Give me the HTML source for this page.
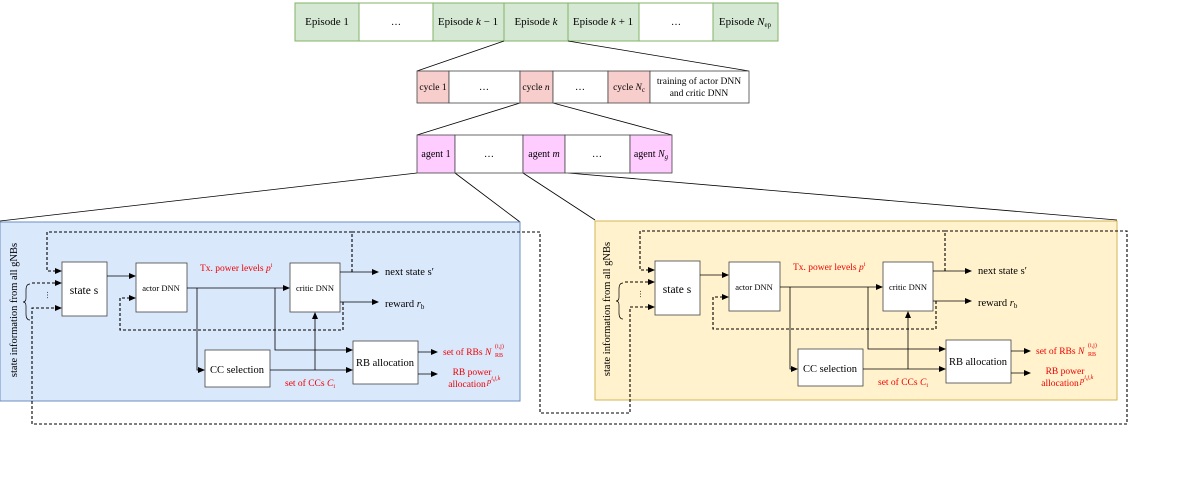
<!DOCTYPE html>
<html><head><meta charset="utf-8"><style>body{margin:0;background:#fff}svg{display:block}text{font-family:"Liberation Serif",serif;font-size:10px}</style></head><body>
<svg width="1177" height="491" viewBox="0 0 1177 491" xmlns="http://www.w3.org/2000/svg">
<defs>
<marker id="a" markerWidth="7" markerHeight="6" refX="6" refY="3" orient="auto" markerUnits="userSpaceOnUse"><path d="M0,0 L7,3 L0,6 Z" fill="#000"/></marker>
</defs>
<g stroke="#82b366" stroke-width="1">
<rect x="295" y="3" width="64" height="38" fill="#d5e8d4"/>
<rect x="359" y="3" width="74" height="38" fill="#fff"/>
<rect x="433" y="3" width="71" height="38" fill="#d5e8d4"/>
<rect x="504" y="3" width="64" height="38" fill="#d5e8d4"/>
<rect x="568" y="3" width="71" height="38" fill="#d5e8d4"/>
<rect x="639" y="3" width="74" height="38" fill="#fff"/>
<rect x="713" y="3" width="65" height="38" fill="#d5e8d4"/>
</g>
<g text-anchor="middle">
<text x="327" y="25" style="font-size:11px">Episode 1</text><text x="396" y="25">…</text>
<text x="468" y="25" style="font-size:11px">Episode <tspan font-style="italic">k</tspan> − 1</text>
<text x="536" y="25" style="font-size:11px">Episode <tspan font-style="italic">k</tspan></text>
<text x="603" y="25" style="font-size:11px">Episode <tspan font-style="italic">k</tspan> + 1</text>
<text x="676" y="25">…</text>
<text x="745" y="25" style="font-size:11px">Episode <tspan font-style="italic">N</tspan><tspan font-size="7" dy="2">ep</tspan></text>
</g>
<g stroke="#000" stroke-width="0.8" fill="none">
<line x1="504" y1="41" x2="417" y2="71"/><line x1="568" y1="41" x2="749" y2="71"/>
<line x1="520" y1="103" x2="417" y2="135"/><line x1="553" y1="103" x2="672" y2="135"/>
<line x1="417" y1="173" x2="0" y2="221"/><line x1="455" y1="173" x2="520" y2="222"/>
<line x1="523" y1="173" x2="595" y2="220"/><line x1="568" y1="173" x2="1117" y2="220"/>
</g>
<g stroke="#444" stroke-width="0.8">
<rect x="417" y="71" width="32" height="32" fill="#f8cecc"/>
<rect x="449" y="71" width="71" height="32" fill="#fff"/>
<rect x="520" y="71" width="33" height="32" fill="#f8cecc"/>
<rect x="553" y="71" width="55" height="32" fill="#fff"/>
<rect x="608" y="71" width="42" height="32" fill="#f8cecc"/>
<rect x="650" y="71" width="99" height="32" fill="#fff"/>
</g>
<g text-anchor="middle">
<text x="433" y="90" style="font-size:9.5px">cycle 1</text><text x="484" y="90">…</text>
<text x="536" y="90" style="font-size:9.5px">cycle <tspan font-style="italic">n</tspan></text><text x="580" y="90">…</text>
<text x="629" y="90" style="font-size:9.5px">cycle <tspan font-style="italic">N</tspan><tspan font-size="7" dy="2">c</tspan></text>
<text x="699" y="84" style="font-size:9.5px">training of actor DNN</text><text x="699" y="96" style="font-size:9.5px">and critic DNN</text>
</g>
<g stroke="#444" stroke-width="0.8">
<rect x="417" y="135" width="38" height="38" fill="#ffccff"/>
<rect x="455" y="135" width="68" height="38" fill="#fff"/>
<rect x="523" y="135" width="42" height="38" fill="#ffccff"/>
<rect x="565" y="135" width="65" height="38" fill="#fff"/>
<rect x="630" y="135" width="42" height="38" fill="#ffccff"/>
</g>
<g text-anchor="middle">
<text x="436" y="157">agent 1</text><text x="489" y="157">…</text>
<text x="544" y="157">agent <tspan font-style="italic">m</tspan></text><text x="597" y="157">…</text>
<text x="651" y="157">agent <tspan font-style="italic">N</tspan><tspan font-size="7" dy="2" font-style="italic">g</tspan></text>
</g>

<rect x="0" y="222" width="520" height="179" fill="#dae8fc" stroke="#6c8ebf"/>
<rect x="595" y="221" width="522" height="179" fill="#fff2cc" stroke="#d6b656"/>

<g id="inner">
<g stroke="#444" stroke-width="0.8" fill="#fff">
<rect x="62" y="262" width="45" height="54"/>
<rect x="136" y="263" width="51" height="49"/>
<rect x="290" y="263" width="50" height="49"/>
<rect x="205" y="350" width="65" height="37"/>
<rect x="353" y="341" width="65" height="43"/>
</g>
<text x="84" y="294" text-anchor="middle" style="font-size:11.5px">state s</text>
<text x="161" y="291" text-anchor="middle" style="font-size:8.5px">actor DNN</text>
<text x="315" y="291" text-anchor="middle" style="font-size:8.5px">critic DNN</text>
<text x="237" y="373" text-anchor="middle" style="font-size:10.5px">CC selection</text>
<text x="385" y="366" text-anchor="middle" style="font-size:10.5px">RB allocation</text>
<text x="17" y="310" transform="rotate(-90 17 310)" text-anchor="middle" style="font-size:10.5px">state information from all gNBs</text>
<path d="M30,284 q-4,0 -4,6 v8 q0,4 -3,4 q3,0 3,4 v8 q0,6 4,6" fill="none" stroke="#000" stroke-width="0.7"/>
<text x="50" y="298" text-anchor="middle" transform="rotate(90 50 295)" style="font-size:8px">…</text>
<g stroke="#000" stroke-width="0.8" fill="none">
<line x1="107" y1="276" x2="135" y2="276" marker-end="url(#a)"/>
<line x1="187" y1="288" x2="289" y2="288" marker-end="url(#a)"/>
<polyline points="197,288 197,370 204,370" marker-end="url(#a)"/>
<polyline points="275,288 275,350 352,350" marker-end="url(#a)"/>
<line x1="270" y1="370" x2="352" y2="370" marker-end="url(#a)"/>
<line x1="315" y1="370" x2="315" y2="313" marker-end="url(#a)"/>
<line x1="340" y1="272" x2="378" y2="272" marker-end="url(#a)"/>
<line x1="340" y1="302" x2="378" y2="302" marker-end="url(#a)"/>
<line x1="418" y1="352" x2="437" y2="352" marker-end="url(#a)"/>
<line x1="418" y1="374" x2="437" y2="374" marker-end="url(#a)"/>
</g>
<g stroke="#000" stroke-width="1.1" fill="none" stroke-dasharray="3,2">
<polyline points="352,272 352,232 47,232 47,271 61,271" marker-end="url(#a)"/>
<polyline points="32,283 61,283" marker-end="url(#a)"/>
<polyline points="343,302 343,330 120,330 120,298 135,298" marker-end="url(#a)"/>
</g>
<text x="385" y="275" style="font-size:10.5px">next state s′</text>
<text x="385" y="307" style="font-size:10.5px">reward <tspan font-style="italic">r</tspan><tspan font-size="7" dy="2">b</tspan></text>
<g fill="#e00">
<text x="200" y="271" style="font-size:9.5px">Tx. power levels <tspan font-style="italic">p</tspan><tspan font-size="6" dy="-4">i</tspan></text>
<text x="285" y="386" style="font-size:9.5px">set of CCs <tspan font-style="italic">C</tspan><tspan font-size="6" dy="2">i</tspan></text>
<text x="443" y="355" style="font-size:9.5px">set of RBs <tspan font-style="italic">N</tspan></text>
<text x="495" y="348" style="font-size:6px">(i,j)</text>
<text x="495" y="357" style="font-size:6px">RB</text>
<text x="472" y="375" text-anchor="middle" style="font-size:9.5px">RB power</text>
<text x="467" y="387" text-anchor="middle" style="font-size:9.5px">allocation</text>
<text x="487" y="384" style="font-size:8.5px;font-style:italic">p<tspan font-size="6" dy="-4">i,j,k</tspan></text>
</g>
</g>
<use href="#inner" transform="translate(593,-1)"/>
<g stroke="#000" stroke-width="1.1" fill="none" stroke-dasharray="3,2">
<polyline points="352,232 540,232 540,413 630,413 630,307 654,307" marker-end="url(#a)"/>
<polyline points="945,231 1127,231 1127,424 32,424 32,308 61,308" marker-end="url(#a)"/>
</g>
</svg>
</body></html>
